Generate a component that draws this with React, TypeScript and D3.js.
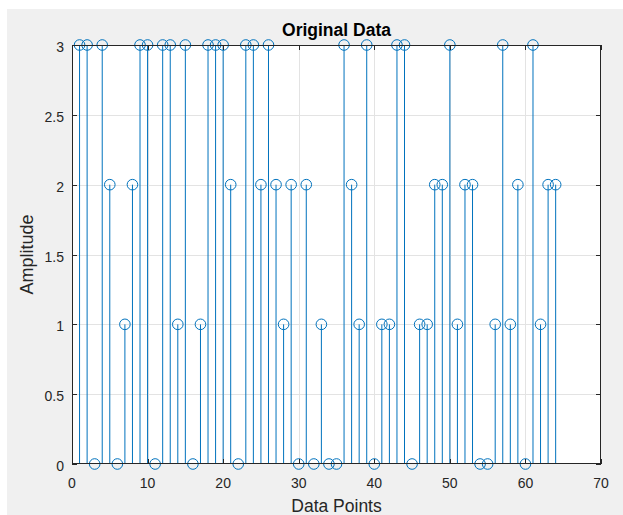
import { useEffect, useRef } from 'react';
import * as d3 from 'd3';

// sample index 1..64, amplitude
const amplitudes = [
  3, 3, 0, 3, 2, 0, 1, 2, 3, 3, 0, 3, 3, 1, 3, 0,
  1, 3, 3, 3, 2, 0, 3, 3, 2, 3, 2, 1, 2, 0, 2, 0,
  1, 0, 0, 3, 2, 1, 3, 0, 1, 1, 3, 3, 0, 1, 1, 2,
  2, 3, 1, 2, 2, 0, 0, 1, 3, 1, 2, 0, 3, 1, 2, 2,
];
const xTicks = [0, 10, 20, 30, 40, 50, 60, 70];
const yTicks = [0, 0.5, 1, 1.5, 2, 2.5, 3];

const [W, H] = [623, 515];
const [left, right, top, bottom] = [72, 601, 45, 464];
const font = '"Liberation Sans", Arial, Helvetica, sans-serif';
const stemColor = '#0072BD';

function App() {
  const node = useRef<SVGSVGElement>(null);
  useEffect(() => {
    if (!node.current) return;
    const svg = d3.select(node.current);
    svg.selectAll('*').remove();

    const data = amplitudes.map((v, i) => ({ x: i + 1, y: v }));
    const x = d3.scaleLinear().domain([0, 70]).range([left, right]);
    const y = d3.scaleLinear().domain([0, 3]).range([bottom, top]);

    svg.append('rect').attr('x', 7).attr('y', 9).attr('width', W - 7).attr('height', H - 9).attr('fill', '#f0f0f0');
    svg.append('rect').attr('x', left).attr('y', top).attr('width', right - left).attr('height', bottom - top).attr('fill', '#fff');

    // grid
    const grid = svg.append('g').attr('stroke', '#e3e3e3').attr('stroke-width', 1);
    grid.selectAll('.gx').data(xTicks.slice(1, -1)).enter().append('line')
      .attr('x1', d => Math.round(x(d)) + 0.5).attr('x2', d => Math.round(x(d)) + 0.5)
      .attr('y1', top).attr('y2', bottom);
    grid.selectAll('.gy').data(yTicks.slice(1, -1)).enter().append('line')
      .attr('y1', d => Math.round(y(d)) + 0.5).attr('y2', d => Math.round(y(d)) + 0.5)
      .attr('x1', left).attr('x2', right);

    // stems
    const g = svg.append('g');
    g.selectAll('line.stem').data(data).enter().append('line')
      .attr('class', 'stem')
      .attr('x1', d => x(d.x)).attr('x2', d => x(d.x))
      .attr('y1', y(0)).attr('y2', d => y(d.y))
      .attr('stroke', stemColor).attr('stroke-width', 1);

    // axes box + inward ticks
    const ax = svg.append('g').attr('stroke', '#262626').attr('stroke-width', 1).attr('fill', 'none');
    ax.append('rect').attr('x', left + 0.5).attr('y', top + 0.5).attr('width', right - left - 1).attr('height', bottom - top - 1);
    xTicks.forEach(t => {
      const px = Math.round(x(t)) + 0.5;
      ax.append('line').attr('x1', px).attr('x2', px).attr('y1', bottom).attr('y2', bottom - 5);
      ax.append('line').attr('x1', px).attr('x2', px).attr('y1', top).attr('y2', top + 5);
    });
    yTicks.forEach(t => {
      const py = Math.round(y(t)) + 0.5;
      ax.append('line').attr('y1', py).attr('y2', py).attr('x1', left).attr('x2', left + 5);
      ax.append('line').attr('y1', py).attr('y2', py).attr('x1', right).attr('x2', right - 5);
    });

    // markers
    g.selectAll('circle').data(data).enter().append('circle')
      .attr('cx', d => x(d.x)).attr('cy', d => y(d.y)).attr('r', 5.3)
      .attr('fill', 'none').attr('stroke', stemColor).attr('stroke-width', 1);

    // tick labels
    const lbl = svg.append('g').attr('font-family', font).attr('font-size', 14).attr('fill', '#262626');
    lbl.selectAll('.xt').data(xTicks).enter().append('text')
      .attr('x', d => x(d)).attr('y', 488).attr('text-anchor', 'middle').text(d => d);
    lbl.selectAll('.yt').data(yTicks).enter().append('text')
      .attr('x', 64).attr('y', d => y(d) + 7).attr('text-anchor', 'end').text(d => d);

    svg.append('text').attr('x', (left + right) / 2).attr('y', 512).attr('text-anchor', 'middle')
      .attr('font-family', font).attr('font-size', 17.5).attr('fill', '#262626').text('Data Points');
    svg.append('text').attr('transform', `translate(33,${(top + bottom) / 2}) rotate(-90)`).attr('text-anchor', 'middle')
      .attr('font-family', font).attr('font-size', 18).attr('fill', '#262626').text('Amplitude');
    svg.append('text').attr('x', (left + right) / 2).attr('y', 36).attr('text-anchor', 'middle')
      .attr('font-family', font).attr('font-size', 17.5).attr('font-weight', 'bold').attr('fill', '#000').text('Original Data');
  }, [node]);

  return (
    <svg ref={node} width={W} height={H} style={{ position: 'absolute', left: 0, top: 0 }}></svg>
  );
}

export default App;
